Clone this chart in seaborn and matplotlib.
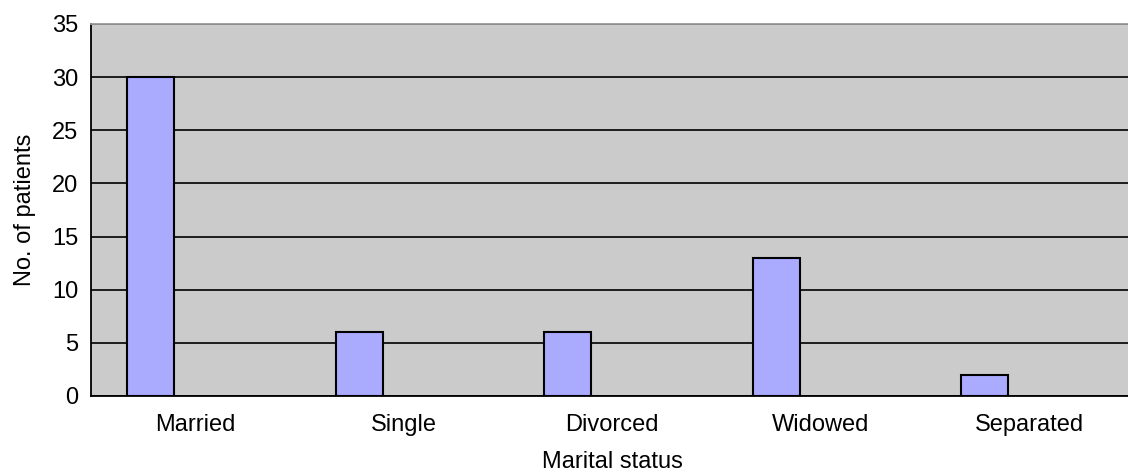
import matplotlib
matplotlib.use("Agg")
import matplotlib.pyplot as plt
import seaborn as sns
import pandas as pd

categories = ["Married", "Single", "Divorced", "Widowed", "Separated"]
patients = [30, 6, 6, 13, 2]
y_ticks = [0, 5, 10, 15, 20, 25, 30, 35]

sns.set_style("white", {"text.color": "black", "axes.labelcolor": "black",
                        "xtick.color": "black", "ytick.color": "black"})
plt.rcParams['font.family'] = ['Liberation Sans', 'DejaVu Sans']

df = pd.DataFrame({"status": categories, "n": patients})

fig = plt.figure(figsize=(11.28, 4.73), dpi=100)
ax = fig.add_axes([0.0807, 0.1628, 0.924, 0.7865])
ax.set_facecolor("#cbcbcb")

sns.barplot(data=df, x="status", y="n", width=0.225, color="#aaaaff",
            saturation=1, edgecolor="black", linewidth=1.5, ax=ax, zorder=3)
# Excel-style layout: bar sits left of the category centre
for p in ax.patches:
    p.set_x(p.get_x() - 0.213)

ax.set_xlim(-0.5, 4.5)
ax.set_ylim(0, 35)
ax.set_yticks(y_ticks)
ax.set_xticks([i - 0.5 for i in range(6)], minor=True)
ax.tick_params(axis="x", which="major", length=0, labelsize=17, pad=13, labelcolor="black")
ax.tick_params(axis="x", which="minor", length=4, width=1.2, color="black", direction="out")
ax.tick_params(axis="y", length=5, width=1.2, color="black", direction="out", labelsize=17, pad=4,
               labelcolor="black")
ax.set_axisbelow(True)
ax.yaxis.grid(True, color="black", linewidth=1.2)
ax.xaxis.grid(False)

for side in ["left", "bottom"]:
    ax.spines[side].set_color("black")
    ax.spines[side].set_linewidth(1.3)
ax.spines["top"].set_color("#999999")
ax.spines["top"].set_linewidth(1.3)
ax.spines["right"].set_visible(False)

ax.set_xlabel("Marital status", fontsize=17, labelpad=11, color="black")
ax.set_ylabel("No. of patients", fontsize=17, labelpad=12, color="black")

fig.savefig("out.png", dpi=100)
